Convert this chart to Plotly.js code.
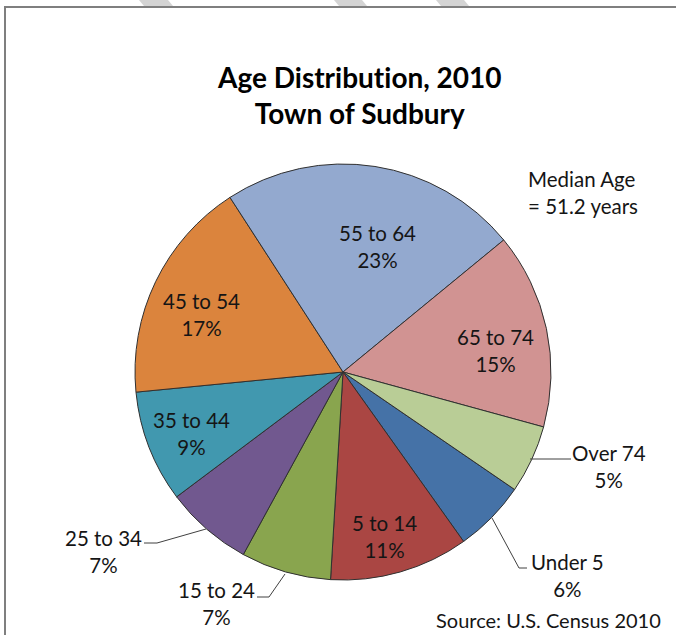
<!DOCTYPE html>
<html>
<head>
<meta charset="utf-8">
<script src="https://cdn.plot.ly/plotly-3.0.1.min.js"></script>
<style>html,body{margin:0;padding:0;background:#fff;}#chart{width:676px;height:635px;}
svg text{font-variant-ligatures:none !important;font-feature-settings:"liga" 0 !important;}</style>
</head>
<body>
<div id="chart"></div>
<script>
// ---- data ----
var categories = ["Under 5", "5 to 14", "15 to 24", "25 to 34", "35 to 44", "45 to 54", "55 to 64", "65 to 74", "Over 74"];
var shares = [5.6, 10.8, 7.0, 6.8, 8.7, 17.4, 23.2, 15.2, 5.3];
var sliceColors = ["#4572A7", "#AA4643", "#89A54E", "#71588F", "#4198AF", "#DB843D", "#93A9CF", "#D19392", "#B9CD96"];
var titleLines = ["Age Distribution, 2010", "Town of Sudbury"];
var noteLines = ["Median Age", "= 51.2 years"];
var sourceText = "Source: U.S. Census 2010";

var W = 676, H = 635;
function X(px){ return px / W; }
function Y(py){ return 1 - py / H; }
var FONT = "Lato, 'Open Sans', sans-serif";
var TXT = "#151515";

var total = shares.reduce(function(a,b){return a+b;}, 0);

var cx = 343, cy = 372, r = 208;
var trace = {
  type: "pie",
  labels: categories,
  values: shares,
  sort: false,
  direction: "clockwise",
  rotation: 124.4,
  marker: {colors: sliceColors, line: {color: "#303030", width: 1}},
  textinfo: "none",
  hoverinfo: "label+percent",
  showlegend: false,
  domain: {x: [X(cx - r), X(cx + r)], y: [Y(cy + r), Y(cy - r)]}
};

function pctOf(cat){ var i = categories.indexOf(cat); return Math.round(shares[i] / total * 100) + "%"; }

// label placement (layout only): centre of each two-line label, optional leader line
var labelLayout = {
  "55 to 64": {x: 377, y: 246.5},
  "45 to 54": {x: 201, y: 314.7},
  "65 to 74": {x: 495, y: 350},
  "35 to 44": {x: 191, y: 433},
  "5 to 14":  {x: 384, y: 536},
  "Over 74":  {x: 609, y: 466, line: [[530, 459], [571, 459]]},
  "Under 5":  {x: 567, y: 575, line: [[492, 518], [519, 568], [527, 568]]},
  "25 to 34": {x: 103, y: 551, line: [[206, 529], [157, 543], [144, 543]]},
  "15 to 24": {x: 217, y: 603, line: [[285, 574], [269, 597], [257, 597]]}
};

var annotations = [];
var shapes = [];
categories.forEach(function(c){
  var o = labelLayout[c];
  annotations.push({xref: "paper", yref: "paper", x: X(o.x), y: Y(o.y), xanchor: "center", yanchor: "middle",
    text: c + "<br>" + pctOf(c), showarrow: false, align: "center",
    font: {family: FONT, size: 20.5, color: TXT}});
  if (o.line) {
    var d = o.line.map(function(p, k){ return (k ? "L" : "M") + X(p[0]) + "," + Y(p[1]); }).join(" ");
    shapes.push({type: "path", xref: "paper", yref: "paper", path: d, line: {color: "#404040", width: 1}});
  }
});

annotations.push({xref: "paper", yref: "paper", x: X(359.5), y: Y(95.5), xanchor: "center", yanchor: "middle",
  text: "<b>" + titleLines.join("<br>") + "</b>", showarrow: false, align: "center",
  font: {family: FONT, size: 28, color: "#000"}});
annotations.push({xref: "paper", yref: "paper", x: X(526), y: Y(192), xanchor: "left", yanchor: "middle",
  text: noteLines.join("<br>"), showarrow: false, align: "left",
  font: {family: FONT, size: 20.5, color: TXT}});
annotations.push({xref: "paper", yref: "paper", x: X(548), y: Y(620), xanchor: "center", yanchor: "middle",
  text: sourceText, showarrow: false,
  font: {family: FONT, size: 20, color: TXT}});

// page decorations: border and scan marks
shapes.push({type: "path", xref: "paper", yref: "paper", layer: "below",
  path: "M" + X(5) + "," + Y(640) + " L" + X(5) + "," + Y(7) + " L" + X(680) + "," + Y(7),
  line: {color: "#7f7f7f", width: 2}});
[[139, 168], [334, 362], [436, 464]].forEach(function(s){
  shapes.push({type: "path", xref: "paper", yref: "paper", layer: "below",
    path: "M" + X(s[0]) + "," + Y(0) + " L" + X(s[1]) + "," + Y(0) + " L" + X(s[1] + 5) + "," + Y(6) + " L" + X(s[0] + 5) + "," + Y(6) + " Z",
    fillcolor: "#d4d4d4", line: {width: 0}});
});

var layout = {
  width: W, height: H,
  margin: {l: 0, r: 0, t: 0, b: 0},
  paper_bgcolor: "#fff",
  annotations: annotations,
  shapes: shapes
};
Plotly.newPlot("chart", [trace], layout, {displayModeBar: false, staticPlot: true});
</script>
</body>
</html>
